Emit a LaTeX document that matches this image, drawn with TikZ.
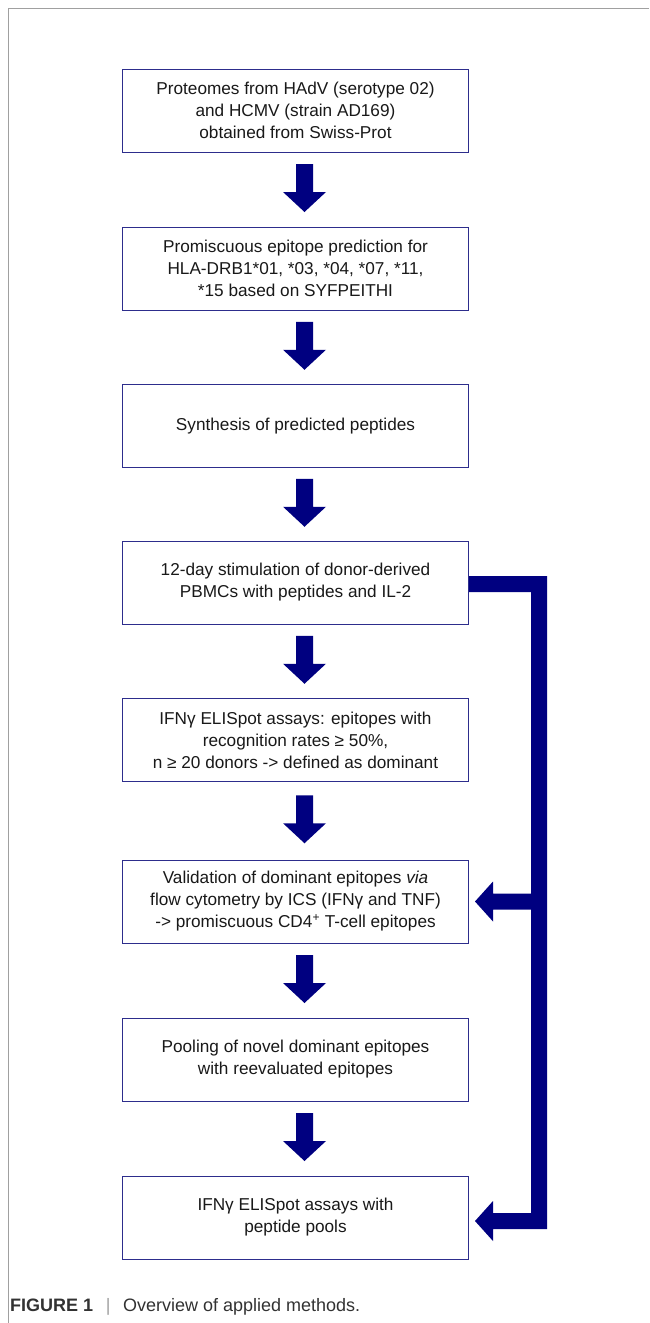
\documentclass[tikz,border=0pt]{standalone}
\usepackage{fontspec}
\setmainfont{Liberation Sans}
\usetikzlibrary{calc}
\definecolor{navyfill}{RGB}{0,0,128}
\definecolor{boxline}{RGB}{45,45,140}
\definecolor{framegray}{RGB}{160,160,160}
\definecolor{txt}{RGB}{25,25,25}
\definecolor{captxt}{RGB}{50,50,50}
\tikzset{
  stepbox/.style={draw=boxline, line width=1pt, fill=white, minimum width=346pt, minimum height=83pt,
    inner sep=0pt, align=center, text=txt, font=\fontsize{17.2pt}{22pt}\selectfont},
  blockarrow/.style={fill=navyfill},
}
\newcommand\downblock[2]{%
  \path let \p1=(#1.south), \p2=(#2.north), \n1={(\y1+\y2)/2+25.5pt} in
    [blockarrow] (\x1+0.5pt,\n1) -- (\x1+17.5pt,\n1) -- (\x1+17.5pt,\n1-28pt) -- (\x1+30.5pt,\n1-28pt)
    -- (\x1+9pt,\n1-48pt) -- (\x1-12.5pt,\n1-28pt) -- (\x1+0.5pt,\n1-28pt) -- cycle;%
}
\begin{document}
\begin{tikzpicture}[x=1pt,y=-1pt]
\useasboundingbox (0,0) rectangle (649,1323);
\draw[framegray, line width=1.2pt] (649,8.5) -- (8.5,8.5) -- (8.5,1323);

\node[stepbox] (b1) at (295.5,110.5) {Proteomes from HAdV (serotype 02)\\and HCMV (strain AD169)\\obtained from Swiss-Prot};
\node[stepbox] (b2) at (295.5,268.5) {Promiscuous epitope prediction for\\HLA-DRB1*01, *03, *04, *07, *11,\\*15 based on SYFPEITHI};
\node[stepbox] (b3) at (295.5,426) {Synthesis of predicted peptides};
\node[stepbox] (b4) at (295.5,582.5) {12-day stimulation of donor-derived\\PBMCs with peptides and IL-2};
\node[stepbox] (b5) at (295.5,740) {IFNγ ELISpot assays: epitopes with\\recognition rates ≥ 50\%,\\n ≥ 20 donors -> defined as dominant};
\node[stepbox] (b6) at (295.5,901.5) {Validation of dominant epitopes \textit{via}\\flow cytometry by ICS (IFNγ and TNF)\\-> promiscuous CD4\textsuperscript{+} T-cell epitopes};
\node[stepbox] (b7) at (295.5,1059.5) {Pooling of novel dominant epitopes\\with reevaluated epitopes};
\node[stepbox] (b8) at (295.5,1217.5) {IFNγ ELISpot assays with\\peptide pools};

\downblock{b1}{b2}
\downblock{b2}{b3}
\downblock{b3}{b4}
\downblock{b4}{b5}
\downblock{b5}{b6}
\downblock{b6}{b7}
\downblock{b7}{b8}

\fill[blockarrow] ($(b4.east)+(0,-6.5)$) -- ($(b4.east)+(78,-6.5)$) |- ($(b8.east)+(24,11.5)$)
  -- ++(0,12) -- ++(-18,-20) -- ++(18,-20) -- ++(0,12) -- ++(38,0)
  -- ($(b6.east)+(62,8)$) -- ++(-38,0) -- ++(0,12) -- ++(-18,-20) -- ++(18,-20) -- ++(0,12) -- ++(38,0)
  -- ($(b4.east)+(62,9.5)$) -- ($(b4.east)+(0,9.5)$) -- cycle;

\node[anchor=base west, inner sep=0pt, text=captxt, font=\fontsize{18pt}{21pt}\selectfont] (cap) at (10,1311)
  {\textbf{FIGURE 1}\hspace{0.7em}{\color{framegray}|}\hspace{0.7em}Overview of applied methods.};
\end{tikzpicture}
\end{document}
